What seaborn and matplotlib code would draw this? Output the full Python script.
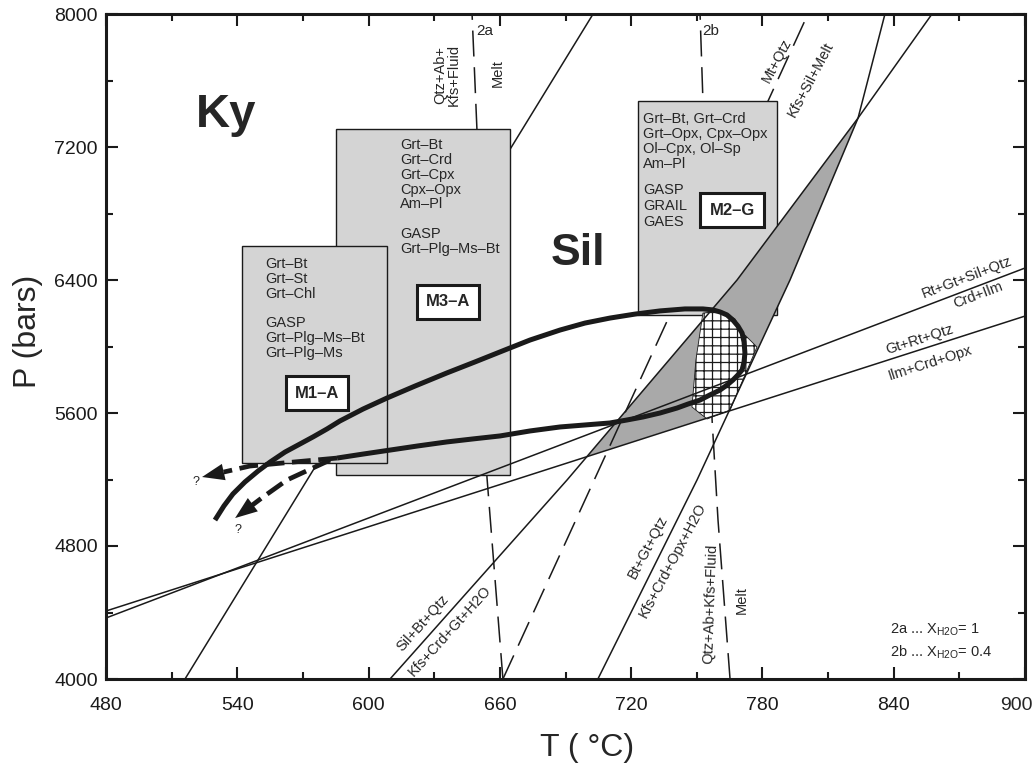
import numpy as np
import matplotlib
matplotlib.use("Agg")
import matplotlib.pyplot as plt
from matplotlib.patches import Polygon, Rectangle
from matplotlib.ticker import MultipleLocator, FuncFormatter
import seaborn as sns

# ─────────────────────────────────────────────
# DATA  (T in °C, P in bars)
# ─────────────────────────────────────────────
kysil_T = [516.1, 702.6]
kysil_P = [4000, 8000]

rt_gt_T = [480, 900]            # Rt+Gt+Sil+Qtz = Crd+Ilm
rt_gt_P = [4367, 6472]
gt_rt_T = [480, 900]            # Gt+Rt+Qtz = Ilm+Crd+Opx
gt_rt_P = [4409, 6183]

sil_bt_T = [609.8, 690.7, 768.4, 823.7, 857.5]   # Sil+Bt+Qtz = Kfs+Crd+Gt+H2O
sil_bt_P = [4000, 5197, 6400, 7374, 8000]
bt_gt_T = [704.8, 750.1, 792.6, 823.7, 836.0]    # Bt+Gt+Qtz = Kfs+Crd+Opx+H2O
bt_gt_P = [4000, 5197, 6400, 7374, 8000]

ms_qtz_T = [661.4, 800.8]       # Mt+Qtz = Kfs+Sil+Melt (dashed)
ms_qtz_P = [4000, 8000]
melt_2a_T = [661.4, 654.1, 649.5, 647.3]
melt_2a_P = [4000, 5215, 7314, 8000]
melt_2b_T = [765.2, 759.7, 757.0, 752.8, 751.5]
melt_2b_P = [4000, 4956, 5558, 7483, 8000]

# thermobarometry boxes
box_names = ["M3–A", "M1–A", "M2–G"]
box_T = [(585.1, 664.6), (542.2, 608.4), (723.1, 786.6)]
box_P = [(5227, 7308), (5299, 6605), (6189, 7477)]
box_label_T = [636.3, 576.4, 766.1]
box_label_P = [6268, 5720, 6821]

m1_lines = ["Grt–Bt", "Grt–St", "Grt–Chl", "", "GASP", "Grt–Plg–Ms–Bt", "Grt–Plg–Ms"]
m3_lines = ["Grt–Bt", "Grt–Crd", "Grt–Cpx", "Cpx–Opx", "Am–Pl", "", "GASP", "Grt–Plg–Ms–Bt"]
m2_lines = ["Grt–Bt, Grt–Crd", "Grt–Opx, Cpx–Opx", "Ol–Cpx, Ol–Sp", "Am–Pl"]
m2_lines_b = ["GASP", "GRAIL", "GAES"]

# peak field (cross-hatched)
hatch_T = [752.8, 761.5, 767.5, 771.1, 777.5, 765.2, 754.7, 747.8, 749.6]
hatch_P = [6201, 6213, 6165, 6081, 5997, 5618, 5564, 5636, 5919]

# P-T path (upper branch -> loop -> lower branch)
path_T = [529.8, 533.9, 538.0, 543.5, 549.5, 555.0, 561.8, 568.7, 574.6, 581.0,
          586.9, 597.5, 608.4, 621.2, 635.8, 648.6, 662.3, 673.8, 687.5, 698.9,
          710.3, 721.8, 733.2, 744.6, 752.8, 757.4, 760.6, 763.8, 766.5, 768.8,
          770.7, 771.6, 772.0, 771.6, 770.7, 768.8, 766.5, 763.8, 760.6, 755.9,
          751.5, 746.0, 741.0, 733.2, 725.4, 718.1, 710.3, 698.9, 687.5, 673.8,
          660.1, 647.7, 635.8, 622.6, 609.8, 597.5, 585.6]
path_P = [4956, 5041, 5113, 5185, 5251, 5305, 5365, 5414, 5456, 5504,
          5552, 5624, 5690, 5762, 5841, 5907, 5979, 6039, 6099, 6141,
          6171, 6195, 6214, 6226, 6226, 6220, 6208, 6190, 6159, 6123,
          6081, 6027, 5961, 5907, 5859, 5829, 5798, 5768, 5738, 5708,
          5678, 5654, 5630, 5600, 5576, 5558, 5540, 5528, 5516, 5492,
          5462, 5444, 5426, 5402, 5377, 5353, 5329]
branch1_T = [585.6, 545.8, 523.9]
branch1_P = [5329, 5281, 5215]
branch2_T = [582.4, 562.7, 551.8, 539.0]
branch2_P = [5317, 5197, 5095, 4968]

# ─────────────────────────────────────────────
# STYLE
# ─────────────────────────────────────────────
sns.set_theme(style="ticks")
plt.rcParams["font.family"] = ["Liberation Sans", "DejaVu Sans"]
plt.rcParams["mathtext.fontset"] = "custom"
plt.rcParams["mathtext.rm"] = "Liberation Sans"
plt.rcParams["hatch.linewidth"] = 0.9

fig = plt.figure(figsize=(10.36, 7.66), dpi=100)
ax = fig.add_axes([106 / 1036, 1 - 679 / 766, 919 / 1036, 665 / 766])

THIN = 1.1
DASH = (0, (17, 7))


def line(T, P, z, **kw):
    sns.lineplot(x=T, y=P, sort=False, estimator=None, ax=ax, color="k",
                 lw=kw.pop("lw", THIN), zorder=z, legend=False, **kw)
    return ax.lines[-1]


# lines that pass under the boxes
line(kysil_T, kysil_P, 1)
line(melt_2a_T, melt_2a_P, 1, linestyle=DASH)
line(melt_2b_T, melt_2b_P, 1, linestyle=DASH)
line(ms_qtz_T, ms_qtz_P, 1, linestyle=DASH)

# boxes
for (t0, t1), (p0, p1) in zip(box_T, box_P):
    ax.add_patch(Rectangle((t0, p0), t1 - t0, p1 - p0, fc="#d4d4d4",
                           ec="k", lw=1.0, zorder=2))

# dark gray field between the two dehydration reactions, above Gt+Rt+Qtz
pp = np.linspace(4000, 7374, 900)
tD = np.interp(pp, sil_bt_P, sil_bt_T)
tE = np.interp(pp, bt_gt_P, bt_gt_T)
kD = pp >= np.interp(tD, gt_rt_T, gt_rt_P)
kE = pp >= np.interp(tE, gt_rt_T, gt_rt_P)
gray = Polygon(np.c_[np.r_[tD[kD], tE[kE][::-1]], np.r_[pp[kD], pp[kE][::-1]]],
               closed=True, fc="#a9a9a9", ec="none", zorder=2.5)
ax.add_patch(gray)
ms_top = line(ms_qtz_T, ms_qtz_P, 2.6, linestyle=DASH)
ms_top.set_clip_path(gray)

hatch = Polygon(np.c_[hatch_T, hatch_P], closed=True, fc="white", ec="k",
                lw=0.6, hatch="++", zorder=2.8)
ax.add_patch(hatch)

for T, P in [(rt_gt_T, rt_gt_P), (gt_rt_T, gt_rt_P),
             (sil_bt_T, sil_bt_P), (bt_gt_T, bt_gt_P)]:
    line(T, P, 3)

# P-T path
line(path_T, path_P, 5, lw=3.6, solid_capstyle="butt", solid_joinstyle="round")
for bT, bP, frac in [(branch1_T, branch1_P, 0.45), (branch2_T, branch2_P, 0.55)]:
    # dashed shaft stops where the arrow head begins
    end_T = bT[-1] + frac * (bT[-2] - bT[-1])
    end_P = bP[-1] + frac * (bP[-2] - bP[-1])
    line(list(bT[:-1]) + [end_T], list(bP[:-1]) + [end_P], 5, lw=3.4,
         linestyle=(0, (4, 1.6)))
    ax.annotate("", xy=(bT[-1], bP[-1]), xytext=(end_T, end_P),
                arrowprops=dict(arrowstyle="-|>,head_length=0.8,head_width=0.3",
                                color="k", lw=0, shrinkA=0, shrinkB=0,
                                mutation_scale=20), zorder=5)
ax.text(521.1, 5185, "?", fontsize=9, ha="center", va="center", zorder=6)
ax.text(540.3, 4896, "?", fontsize=9, ha="center", va="center", zorder=6)

# box contents
for name, lt, lp in zip(box_names, box_label_T, box_label_P):
    ax.text(lt, lp, name, fontsize=12, fontweight="bold", ha="center", va="center",
            zorder=6, bbox=dict(boxstyle="square,pad=0.55", fc="white", ec="k", lw=2.2))


def stack(T, P, rows, step=10.7, size=10.5):
    for i, r in enumerate(rows):
        ax.annotate(r, (T, P), xytext=(0, -i * step), textcoords="offset points",
                    fontsize=size, ha="left", va="center", zorder=6)


stack(552.7, 6496, m1_lines)
stack(614.4, 7212, m3_lines)
stack(725.4, 7368, m2_lines)
stack(725.4, 6941, m2_lines_b, step=11.5)

ax.text(534.8, 7320, "Ky", fontsize=34, fontweight="bold", ha="center", va="baseline")
ax.text(695.7, 6490, "Sil", fontsize=32, fontweight="bold", ha="center", va="baseline")

# reaction labels
lab = dict(fontsize=10.5, ha="center", va="center", rotation_mode="anchor", zorder=6)
ax.text(873.5, 6418, "Rt+Gt+Sil+Qtz", rotation=20.8, **lab)
ax.text(878.5, 6310, "Crd+Ilm", rotation=20.8, **lab)
ax.text(852.0, 6039, "Gt+Rt+Qtz", rotation=17.8, **lab)
ax.text(856.6, 5901, "Ilm+Crd+Opx", rotation=17.8, **lab)
ax.text(624.9, 4337, "Sil+Bt+Qtz", rotation=48, **lab)
ax.text(637.2, 4290, "Kfs+Crd+Gt+H2O", rotation=48, **lab)
ax.text(727.7, 4794, "Bt+Gt+Qtz", rotation=62, **lab)
ax.text(739.1, 4716, "Kfs+Crd+Opx+H2O", rotation=62, **lab)
ax.text(756.0, 4451, "Qtz+Ab+Kfs+Fluid", rotation=88, **lab)
ax.text(770.7, 4475, "Melt", rotation=90, **lab)
ax.text(786.7, 7717, "Mt+Qtz", rotation=62, **lab)
ax.text(802.2, 7603, "Kfs+Sil+Melt", rotation=62, **lab)
ax.text(635.8, 7633, "Qtz+Ab+\nKfs+Fluid", rotation=90, linespacing=1.0, **lab)
ax.text(659.1, 7645, "Melt", rotation=90, **lab)
ax.text(649.1, 7898, "2a", fontsize=11, ha="left", va="center")
ax.text(752.4, 7898, "2b", fontsize=11, ha="left", va="center")
ax.text(838.3, 4295, r"2a ... X$_{\mathrm{H2O}}$= 1", fontsize=10.5, ha="left", va="center")
ax.text(838.3, 4162, r"2b ... X$_{\mathrm{H2O}}$= 0.4", fontsize=10.5, ha="left", va="center")

# axes
ax.set_xlim(480, 900)
ax.set_ylim(4000, 8000)
ax.xaxis.set_major_locator(MultipleLocator(60))
ax.xaxis.set_minor_locator(MultipleLocator(30))
ax.yaxis.set_major_locator(MultipleLocator(800))
ax.yaxis.set_minor_locator(MultipleLocator(400))
# the 900 label sits against the figure edge, so it is drawn separately a bit inward
ax.xaxis.set_major_formatter(FuncFormatter(lambda v, _: "" if v >= 900 else f"{v:.0f}"))
ax.tick_params(which="both", direction="in", top=True, right=True, width=1.5,
               colors="k", labelsize=14)
ax.tick_params(which="major", length=8.5)
ax.tick_params(which="minor", length=5)
ax.tick_params(axis="x", pad=13)
ax.tick_params(axis="y", pad=6)
ax.annotate("900", xy=(900, 0), xycoords=("data", "axes fraction"), xytext=(-6, -13),
            textcoords="offset points", ha="center", va="top", fontsize=14)
for s in ax.spines.values():
    s.set_linewidth(2.2)
    s.set_color("k")
ax.set_xlabel("T ( °C)", fontsize=23)
ax.set_ylabel("P (bars)", fontsize=23)
ax.xaxis.set_label_coords(0.524, -0.081)
ax.yaxis.set_label_coords(-0.0686, 0.523)

fig.savefig("out.png", dpi=100, facecolor="white")
